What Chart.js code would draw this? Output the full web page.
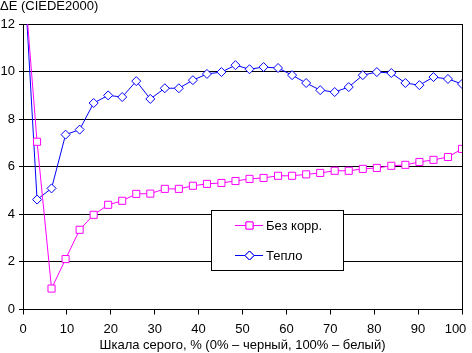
<!DOCTYPE html>
<html lang="ru">
<head>
    <meta charset="UTF-8">
    <title>ΔE (CIEDE2000)</title>
    <script src="https://cdn.jsdelivr.net/npm/chart.js"></script>
    <style>
        body { margin: 0; background: #fff; }
    </style>
</head>
<body>
    <canvas id="myChart" width="472" height="353"></canvas>

    <script>
        // шкала серого, % (32 точки)
        const grayLevels = [0, 3.2, 6.5, 9.7, 12.9, 16.1, 19.4, 22.6, 25.8, 29, 32.3, 35.5, 38.7, 41.9, 45.2, 48.4,
            51.6, 54.8, 58.1, 61.3, 64.5, 67.7, 71, 74.2, 77.4, 80.6, 83.9, 87.1, 90.3, 93.5, 96.8, 100];
        const noCorr = [14.5, 7.05, 0.88, 2.12, 3.35, 3.98, 4.4, 4.57, 4.86, 4.87, 5.07, 5.07, 5.2, 5.28, 5.32, 5.4,
            5.49, 5.53, 5.62, 5.62, 5.68, 5.74, 5.83, 5.83, 5.91, 5.95, 6.04, 6.08, 6.2, 6.29, 6.41, 6.75];
        const warm = [15, 4.62, 5.09, 7.35, 7.56, 8.68, 9.0, 8.93, 9.6, 8.85, 9.3, 9.3, 9.64, 9.9, 9.98, 10.27,
            10.1, 10.19, 10.15, 9.85, 9.52, 9.22, 9.14, 9.35, 9.85, 9.98, 9.94, 9.52, 9.43, 9.77, 9.69, 9.48];
        const seriesNames = ['Без корр.', 'Тепло'];
        const yTitle = 'ΔE (CIEDE2000)';
        const xTitle = 'Шкала серого, % (0% – черный, 100% – белый)';

        const FONT = 'Liberation Sans, Arial, sans-serif';
        const PINK = '#ff00ff';
        const BLUE = '#0000ff';

        const toPoints = arr => arr.map((v, i) => ({ x: grayLevels[i], y: v }));

        // подпись оси Y сверху слева и легенда в рамке
        const extras = {
            id: 'extras',
            afterDraw(chart) {
                const ctx = chart.ctx;
                ctx.save();
                ctx.fillStyle = '#000';
                ctx.font = '13px ' + FONT;
                ctx.textAlign = 'left';
                ctx.textBaseline = 'alphabetic';
                ctx.fillText(yTitle, 0, 10);

                // легенда
                const bx = 211.5, by = 210.5, bw = 132, bh = 60;
                ctx.fillStyle = '#fff';
                ctx.fillRect(bx, by, bw, bh);
                ctx.strokeStyle = '#000';
                ctx.lineWidth = 1;
                ctx.strokeRect(bx, by, bw, bh);

                const rows = [225, 255];
                chart.data.datasets.forEach((ds, i) => {
                    const y = rows[i] + 0.5;
                    ctx.strokeStyle = ds.borderColor;
                    ctx.beginPath();
                    ctx.moveTo(235, y);
                    ctx.lineTo(263, y);
                    ctx.stroke();
                    Chart.helpers.drawPoint(ctx, {
                        pointStyle: ds.pointStyle,
                        radius: ds.pointRadius,
                        borderWidth: 1,
                        rotation: 0
                    }, 249.5, y);
                    ctx.fillStyle = '#fff';
                    ctx.fill();
                    ctx.stroke();
                    ctx.fillStyle = '#000';
                    ctx.textBaseline = 'middle';
                    ctx.fillText(ds.label, 266, y + 1);
                });
                ctx.restore();
            }
        };

        const ctx = document.getElementById('myChart').getContext('2d');
        new Chart(ctx, {
            type: 'line',
            data: {
                datasets: [{
                    label: seriesNames[0],
                    data: toPoints(noCorr),
                    borderColor: PINK,
                    backgroundColor: '#fff',
                    borderWidth: 1,
                    pointStyle: 'rect',
                    pointRadius: 5,
                    pointBorderWidth: 1,
                    pointBorderColor: PINK,
                    pointBackgroundColor: '#fff'
                }, {
                    label: seriesNames[1],
                    data: toPoints(warm),
                    borderColor: BLUE,
                    backgroundColor: '#fff',
                    borderWidth: 1,
                    pointStyle: 'rectRot',
                    pointRadius: 4.5,
                    pointBorderWidth: 1,
                    pointBorderColor: BLUE,
                    pointBackgroundColor: '#fff'
                }]
            },
            options: {
                responsive: false,
                animation: false,
                layout: { padding: { top: 24, right: 10, left: 0, bottom: 0 } },
                plugins: {
                    legend: { display: false },
                    tooltip: { enabled: false }
                },
                scales: {
                    x: {
                        type: 'linear',
                        min: 0,
                        max: 100,
                        afterFit: s => { s.height = 43.5; s.paddingRight = 0; },
                        ticks: {
                            stepSize: 10, color: '#000', padding: 7, maxRotation: 0,
                            font: { family: FONT, size: 13 },
                            // последнюю подпись Excel сдвигает внутрь
                            callback: v => v === 100 ? '100\u2003' : String(v)
                        },
                        grid: {
                            color: c => (c.tick && c.tick.value === 100) ? '#000' : 'rgba(0,0,0,0)',
                            tickColor: '#000',
                            tickLength: 5,
                            lineWidth: 1
                        },
                        border: { color: '#000', width: 1 },
                        title: {
                            display: true,
                            text: xTitle,
                            color: '#000',
                            font: { family: FONT, size: 13 },
                            padding: { top: 0, bottom: 0 }
                        }
                    },
                    y: {
                        min: 0,
                        max: 12,
                        afterFit: s => { s.width = 23; },
                        ticks: { stepSize: 2, color: '#000', padding: 4, font: { family: FONT, size: 13 } },
                        grid: { color: '#000', tickColor: '#000', tickLength: 4, lineWidth: 1 },
                        border: { color: '#000', width: 1 }
                    }
                }
            },
            plugins: [extras]
        });
    </script>
</body>
</html>
